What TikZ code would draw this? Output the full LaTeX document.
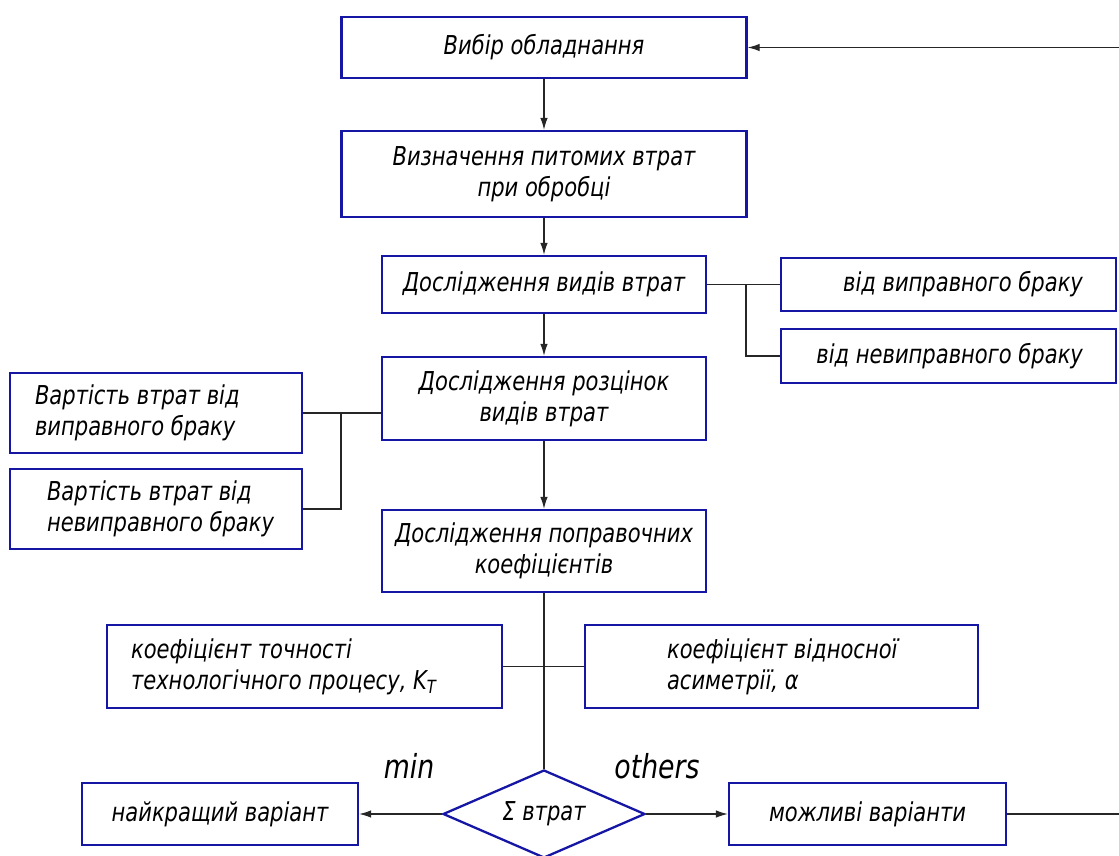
\documentclass[tikz,border=0pt]{standalone}
\usepackage{fontspec}
\setmainfont{DejaVu Sans}[FakeStretch=0.81]
\usetikzlibrary{arrows.meta,shapes.geometric,calc}
\definecolor{frameblue}{RGB}{22,22,165}
\begin{document}
\begin{tikzpicture}[x=1pt,y=-1pt,
  txt/.style={font=\fontsize{26}{31}\selectfont\itshape, inner sep=0pt},
  box/.style={draw=frameblue, line width=2.3pt, inner sep=0pt, txt},
  wire/.style={line width=1.1pt, draw=black!85},
  arr/.style={wire, -{Latex[length=12pt,width=7.5pt]}},
  biglabel/.style={font=\fontsize{33}{36}\selectfont\itshape, inner sep=0pt}]
\useasboundingbox (0,0) rectangle (1119,856);

% main chain
\node[box, minimum width=405pt, minimum height=61pt] (b1) at (544,47.5) {Вибір обладнання};
\node[box, minimum width=405pt, minimum height=86pt, align=center] (b2) at (544,174) {Визначення питомих втрат\\при обробці};
\node[box, minimum width=324pt, minimum height=57pt] (b3) at (544,284.5) {Дослідження видів втрат};
\node[box, minimum width=324pt, minimum height=83pt, align=center] (b4) at (544,398.5) {Дослідження розцінок\\видів втрат};
\node[box, minimum width=324pt, minimum height=82pt, align=center] (b5) at (544,551) {Дослідження поправочних\\коефіцієнтів};

% kinds of losses
\node[box, minimum width=335pt, minimum height=53pt] (r1) at (948.5,284.5) {};
\node[txt, anchor=east] (r1t) at ($(r1.east)+(-34,0)$) {від виправного браку};
\node[box, minimum width=335pt, minimum height=54pt] (r2) at (948.5,356) {};
\node[txt, anchor=east] (r2t) at ($(r2.east)+(-34,0)$) {від невиправного браку};

% cost of losses
\node[box, minimum width=292pt, minimum height=80pt] (l1) at (156,413) {};
\node[txt, anchor=west, align=left] (l1t) at ($(l1.west)+(26,0)$) {Вартість втрат від\\виправного браку};
\node[box, minimum width=292pt, minimum height=80pt] (l2) at (156,509) {};
\node[txt, anchor=west, align=left] (l2t) at ($(l2.west)+(38,0)$) {Вартість втрат від\\невиправного браку};

% correction coefficients
\node[box, minimum width=395pt, minimum height=83pt] (kc) at (304.5,666.5) {};
\node[txt, anchor=west, align=left] (kct) at ($(kc.west)+(25,0)$) {коефіцієнт точності\\технологічного процесу, K\textsubscript{T}};
\node[box, minimum width=393pt, minimum height=83pt] (ac) at (781.5,666.5) {};
\node[txt, anchor=west, align=left] (act) at ($(ac.west)+(83,0)$) {коефіцієнт відносної\\асиметрії, α};

% decision
\node[box, shape=diamond, aspect=2.3, minimum width=202pt, minimum height=88pt] (d) at (544,814) {Σ втрат};
\node[box, minimum width=276pt, minimum height=62pt] (best) at (220,814) {найкращий варіант};
\node[box, minimum width=277pt, minimum height=62pt] (poss) at (867.5,814) {можливі варіанти};
\node[biglabel] (minl) at (409,766) {min};
\node[biglabel] (othl) at (657,766) {others};

% connectors
\coordinate (inR) at (1125,47.5);
\coordinate (outR) at (1125,814);
\coordinate (jr) at (746,284.5);
\coordinate (jl) at (341,413);

\draw[arr] (inR) -- (b1.east);
\draw[arr] (b1.south) -- (b2.north);
\draw[arr] (b2.south) -- (b3.north);
\draw[arr] (b3.south) -- (b4.north);
\draw[arr] (b4.south) -- (b5.north);
\draw[wire] (b5.south) -- (d.north);

\draw[wire] (b3.east) -- (r1.west);
\draw[wire] (jr) |- (r2.west);

\draw[wire] (l1.east) -- (l1.east -| b4.west);
\draw[wire] (jl) |- (l2.east);

\draw[wire] (kc.east) -- (ac.west);

\draw[arr] (d.west) -- (best.east);
\draw[arr] (d.east) -- (poss.west);
\draw[wire] (poss.east) -- (outR);
\end{tikzpicture}
\end{document}
